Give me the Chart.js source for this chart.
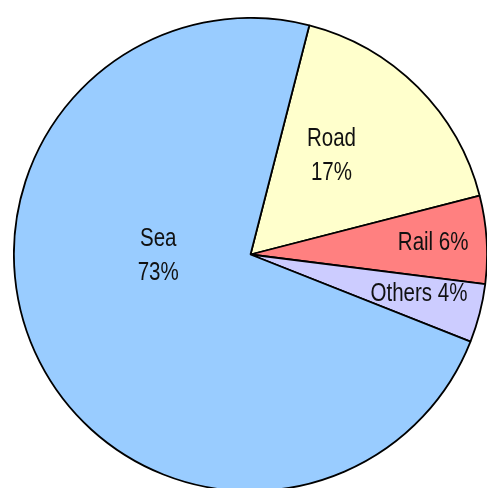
<!DOCTYPE html>
<html>
<head>
<meta charset="utf-8">
<script src="https://cdn.jsdelivr.net/npm/chart.js@4.4.1/dist/chart.umd.min.js"></script>
<style>
html,body{margin:0;padding:0;background:#fff;overflow:hidden;width:487px;height:488px;}
#wrap{position:absolute;left:12.5px;top:17px;width:475px;height:475px;}
</style>
</head>
<body>
<div id="wrap"><canvas id="c"></canvas></div>
<script>
const categories = ["Road", "Rail", "Others", "Sea"];
const shares = [17, 6, 4, 73];
const labelLines = [["Road", "17%"], ["Rail 6%"], ["Others 4%"], ["Sea", "73%"]];
const sliceColors = ["#ffffcc", "#ff8080", "#ccccff", "#99ccff"];
// label placement within each slice: fraction of the slice's angle, fraction of radius
const labelAngleFrac = [0.40, 0.48, 0.38, 0.603];
const labelRadiusFrac = [0.545, 0.774, 0.73, 0.39];

const labelPlugin = {
  id: 'sliceLabels',
  afterDatasetsDraw(chart) {
    const ctx = chart.ctx;
    const meta = chart.getDatasetMeta(0);
    const sx = 0.805;
    ctx.save();
    ctx.fillStyle = '#111';
    ctx.textAlign = 'center';
    ctx.textBaseline = 'middle';
    ctx.font = '25.5px "Liberation Sans", Arial, sans-serif';
    const lineH = 34;
    meta.data.forEach((arc, i) => {
      const p = arc.getProps(['x','y','startAngle','endAngle','outerRadius'], true);
      const a = p.startAngle + (p.endAngle - p.startAngle) * labelAngleFrac[i];
      const r = p.outerRadius * labelRadiusFrac[i];
      const cx = p.x + Math.cos(a) * r;
      const cy = p.y + Math.sin(a) * r + 1.5;
      const lines = labelLines[i];
      const y0 = cy - (lines.length - 1) * lineH / 2;
      lines.forEach((t, k) => {
        ctx.save();
        ctx.translate(cx, y0 + k * lineH);
        ctx.scale(sx, 1);
        ctx.fillText(t, 0, 0);
        ctx.restore();
      });
    });
    ctx.restore();
  }
};

new Chart(document.getElementById('c'), {
  type: 'pie',
  data: {
    labels: categories,
    datasets: [{
      data: shares,
      backgroundColor: sliceColors,
      borderColor: '#000',
      borderWidth: 1.8,
      borderAlign: 'center'
    }]
  },
  options: {
    responsive: true,
    maintainAspectRatio: false,
    animation: false,
    rotation: 14.4,
    layout: { padding: 0 },
    plugins: { legend: { display: false }, tooltip: { enabled: false } }
  },
  plugins: [labelPlugin]
});
</script>
</body>
</html>
